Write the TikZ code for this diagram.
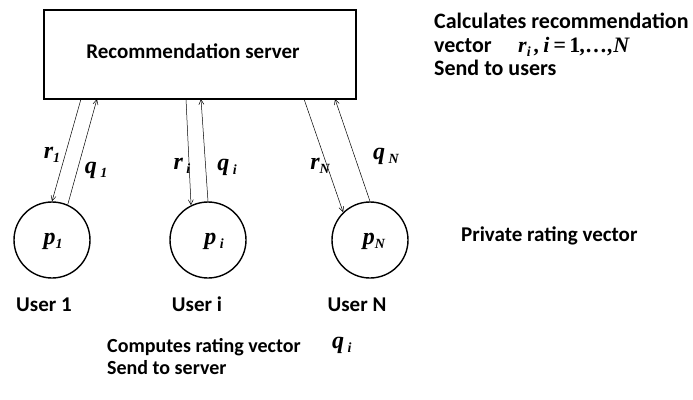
\documentclass[tikz,border=0pt]{standalone}
\usepackage{fontspec}
\setmainfont{Carlito}
\newfontfamily\mathserif{Liberation Serif}
\usetikzlibrary{arrows.meta}
\newcommand{\sbx}[1]{\raisebox{-4pt}{\fontsize{14}{15}\selectfont #1}}
\begin{document}
\begin{tikzpicture}[x=1pt,y=-1pt,
  lbl/.style={font=\bfseries\fontsize{21}{24}\selectfont, inner sep=0pt},
  var/.style={font=\mathserif\bfseries\itshape\fontsize{24}{26}\selectfont, inner sep=0pt},
  usr/.style={circle, draw, line width=1.4pt, minimum size=76pt, inner sep=0pt},
  link/.style={line width=0.5pt, -{Straight Barb[length=5pt,width=5pt]}}]
\useasboundingbox (0,0) rectangle (693,399);
% server
\node[draw, line width=1.5pt, minimum width=312pt, minimum height=89pt, inner sep=0pt] (srv) at (200,54.5) {};
\node[lbl] (srvt) at (193,51) {Recommendation server};
% users
\node[usr] (u1) at (52,240) {};
\node[usr] (ui) at (208,240) {};
\node[usr] (uN) at (370,240) {};
\node[var] (p1) at (53,241) {p\sbx{1}};
\node[var] (pi) at (214,241) {p\sbx{\ i}};
\node[var] (pN) at (374,241) {p\sbx{N}};
% points on server bottom
\coordinate (a1) at (81,99);
\coordinate (b1) at (97,99);
\coordinate (ai) at (186,99);
\coordinate (bi) at (201,99);
\coordinate (aN) at (304,99);
\coordinate (bN) at (335,99);
% arrows
\draw[link] (a1) -- (u1.90);
\draw[link] (u1.66) -- (b1);
\draw[link] (ai) -- (ui.116);
\draw[link] (ui.90) -- (bi);
\draw[link] (aN) -- (uN.134);
\draw[link] (uN.90) -- (bN);
% arrow labels
\node[var] (r1) at (52,155) {r\sbx{1}};
\node[var] (q1) at (96,170) {q\sbx{\ 1}};
\node[var] (ri) at (182,166) {r\sbx{\ i}};
\node[var] (qi) at (227,167) {q\sbx{\ i}};
\node[var] (rN) at (320,166) {r\sbx{N}};
\node[var] (qN) at (386,156) {q\sbx{\ N}};
% user names
\node[lbl, anchor=base] (n1) at (44,311) {User 1};
\node[lbl, anchor=base] (ni) at (197,311) {User i};
\node[lbl, anchor=base] (nN) at (357,311) {User N};
% right texts
\node[lbl, anchor=base west, font=\bfseries\fontsize{22}{24}\selectfont] (c1) at (434,28) {Calculates recommendation};
\node[lbl, anchor=base west, font=\bfseries\fontsize{22}{24}\selectfont] (c2) at (434,52) {vector};
\node[var, anchor=base west, font=\mathserif\bfseries\itshape\fontsize{22}{24}\selectfont] (c2m) at (518,52) {r\sbx{i}\,,\,i\,=\,\textup{1},\ldots,N};
\node[lbl, anchor=base west, font=\bfseries\fontsize{22}{24}\selectfont] (c3) at (434,75) {Send to users};
\node[lbl, anchor=west] (prv) at (461,236) {Private rating vector};
% bottom texts
\node[lbl, anchor=west, font=\bfseries\fontsize{20}{23}\selectfont] (cm1) at (107,347) {Computes rating vector};
\node[lbl, anchor=west, font=\bfseries\fontsize{20}{23}\selectfont] (cm2) at (107,368) {Send to server};
\node[var, anchor=west] (cmq) at (332,345) {q\sbx{\ i}};
\end{tikzpicture}
\end{document}
